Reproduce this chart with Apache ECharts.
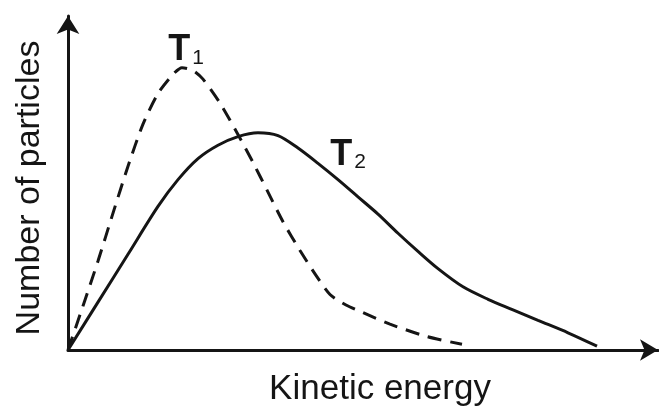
<!DOCTYPE html>
<html>
<head>
<meta charset="utf-8">
<script src="https://cdn.jsdelivr.net/npm/echarts@6/dist/echarts.min.js"></script>
<style>
  html, body { margin: 0; padding: 0; background: #fff; }
  #chart { width: 659px; height: 412px; }
</style>
</head>
<body>
<div id="chart"></div>
<script>
// curves (energy, number of particles), arbitrary units
const t1Energy = [0, 15, 30, 45, 60, 75, 90, 105, 114, 125, 135, 152, 169, 185, 200, 215, 232, 248, 262, 278, 295, 322, 359, 394]
const t1Count = [0, 46, 93, 143, 192, 236, 268, 288, 295, 292, 283, 258, 227, 196, 165, 134, 104, 78, 58, 47, 39, 27, 14, 6]
const t2Energy = [0, 30, 60, 90, 110, 130, 150, 170, 190, 210, 230, 250, 270, 290, 310, 330, 350, 370, 395, 420, 445, 470, 500, 529]
const t2Count = [0, 50, 100, 150, 178, 200, 214, 223, 227, 224, 211, 195, 178, 160, 142, 122, 103, 85, 66, 53, 42, 31, 18, 4]
const seriesNames = ['T1', 'T2']

const ink = '#151515'
const chart = echarts.init(document.getElementById('chart'))

const pairs = (xs, ys) => xs.map((x, i) => [x, ys[i]])

// "T" with a subscript, hung on an invisible mark point
const tempLabel = (sub, coord) => ({
  symbol: 'circle',
  symbolSize: 1,
  itemStyle: { color: 'rgba(0,0,0,0)' },
  data: [{ coord: coord }],
  label: {
    show: true,
    position: 'inside',
    formatter: '{a|T}{b|' + sub + '}',
    rich: {
      a: { fontSize: 36, fontWeight: 'bold', color: ink, fontFamily: 'Liberation Sans', lineHeight: 36, verticalAlign: 'bottom' },
      b: { fontSize: 21, color: ink, fontFamily: 'Liberation Sans', lineHeight: 20, verticalAlign: 'bottom', padding: [0, 0, 0, 2] }
    }
  }
})

const option = {
  animation: false,
  backgroundColor: '#fff',
  grid: { left: 68, right: 1, top: 16, bottom: 47 },
  xAxis: {
    type: 'value',
    min: 0,
    max: 590,
    name: 'Kinetic energy',
    nameLocation: 'middle',
    nameGap: 22,
    nameTextStyle: {
      color: ink, fontSize: 35, fontFamily: 'Liberation Sans',
      verticalAlign: 'top', padding: [0, 0, 0, 34]
    },
    axisLine: {
      show: true,
      symbol: ['none', 'arrow'],
      symbolSize: [16, 18],
      lineStyle: { color: ink, width: 3 }
    },
    axisTick: { show: false },
    axisLabel: { show: false },
    splitLine: { show: false }
  },
  yAxis: {
    type: 'value',
    min: 0,
    max: 349,
    name: 'Number of particles',
    nameLocation: 'middle',
    nameGap: 21,
    nameTextStyle: { color: ink, fontSize: 34, fontFamily: 'Liberation Sans', padding: [0, 10, 0, 0] },
    axisLine: {
      show: true,
      symbol: ['none', 'arrow'],
      symbolSize: [17, 18],
      lineStyle: { color: ink, width: 3 }
    },
    axisTick: { show: false },
    axisLabel: { show: false },
    splitLine: { show: false }
  },
  series: [
    {
      name: seriesNames[0],
      type: 'line',
      smooth: 0.25,
      symbol: 'none',
      data: pairs(t1Energy, t1Count),
      lineStyle: { color: ink, width: 3, type: [14, 9] },
      markPoint: tempLabel('1', [118, 313])
    },
    {
      name: seriesNames[1],
      type: 'line',
      smooth: 0.3,
      symbol: 'none',
      data: pairs(t2Energy, t2Count),
      lineStyle: { color: ink, width: 3 },
      markPoint: tempLabel('2', [280, 204])
    }
  ]
}

chart.setOption(option)
</script>
</body>
</html>
